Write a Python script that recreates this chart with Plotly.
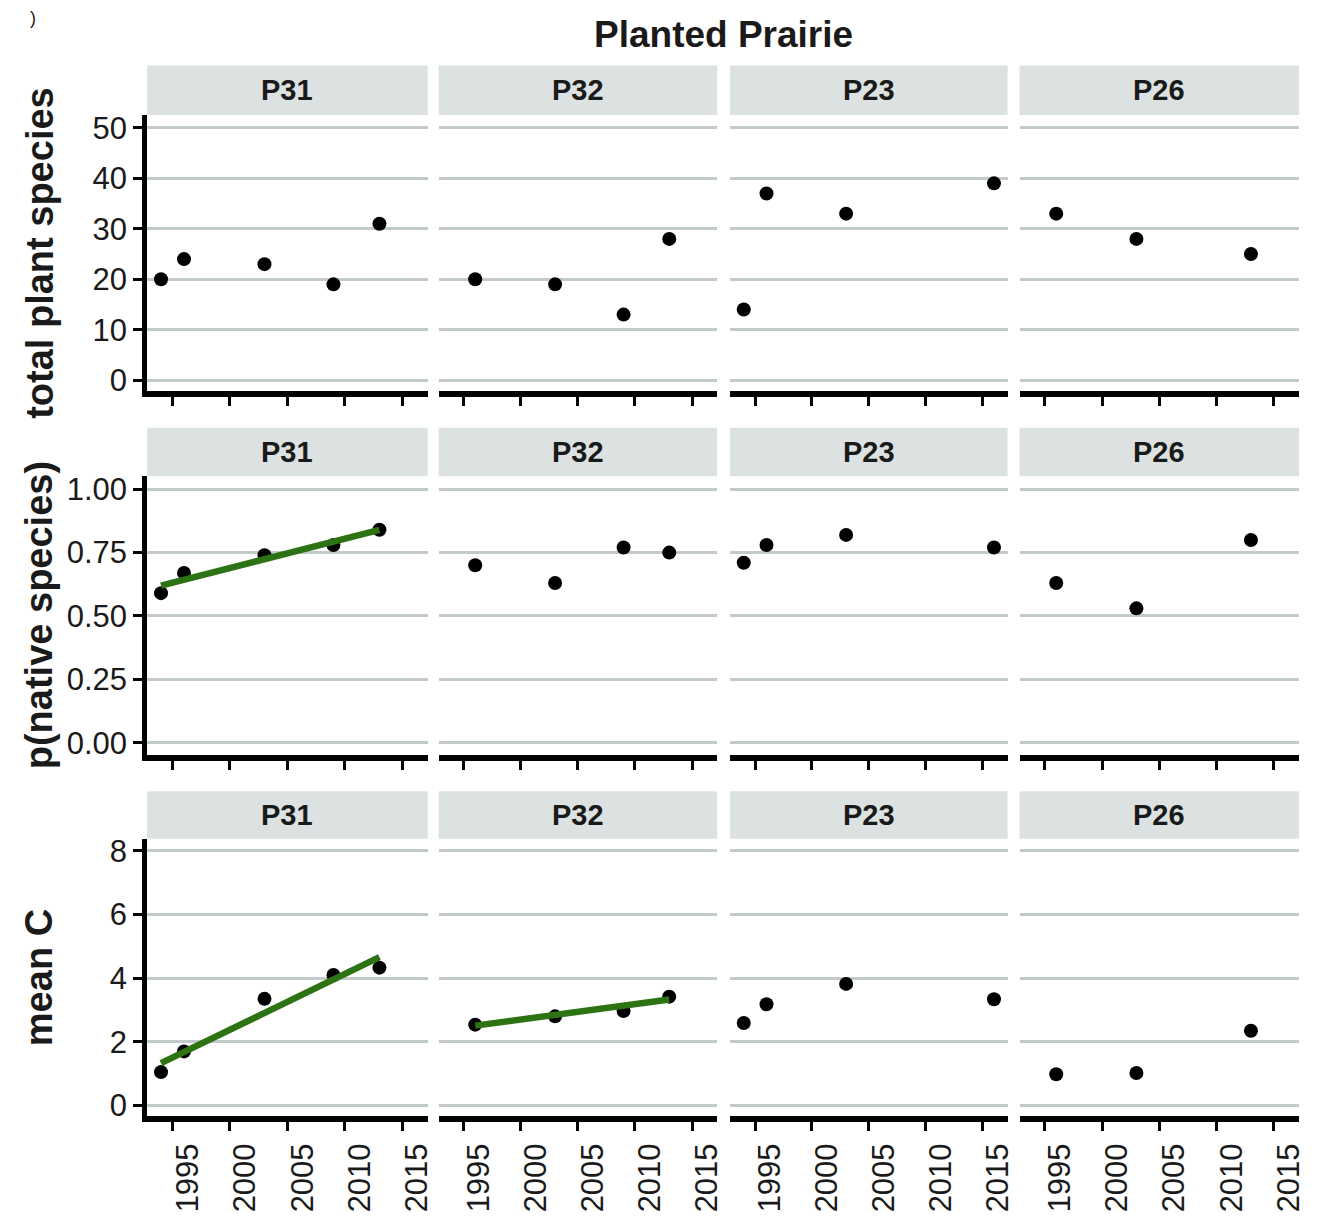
import plotly.graph_objects as go

# ---------------- data ----------------
sites = ["P31", "P32", "P23", "P26"]

years_P31 = [1994, 1996, 2003, 2009, 2013]
years_P32 = [1996, 2003, 2009, 2013]
years_P23 = [1994, 1996, 2003, 2016]
years_P26 = [1996, 2003, 2013]

total_P31 = [20, 24, 23, 19, 31]
total_P32 = [20, 19, 13, 28]
total_P23 = [14, 37, 33, 39]
total_P26 = [33, 28, 25]

native_P31 = [0.59, 0.67, 0.74, 0.78, 0.84]
native_P32 = [0.70, 0.63, 0.77, 0.75]
native_P23 = [0.71, 0.78, 0.82, 0.77]
native_P26 = [0.63, 0.53, 0.80]

meanC_P31 = [1.05, 1.70, 3.35, 4.10, 4.33]
meanC_P32 = [2.54, 2.80, 2.97, 3.42]
meanC_P23 = [2.59, 3.18, 3.82, 3.34]
meanC_P26 = [0.98, 1.02, 2.35]

# fitted trend lines (end points)
trend_native_P31_years = [1994, 2013]
trend_native_P31_vals = [0.62, 0.84]
trend_meanC_P31_years = [1994, 2013]
trend_meanC_P31_vals = [1.33, 4.66]
trend_meanC_P32_years = [1996, 2013]
trend_meanC_P32_vals = [2.51, 3.33]

row_titles = ["total plant species", "p(native species)", "mean C"]
x_tickvals = [1995, 2000, 2005, 2010, 2015]
y_tickvals_rows = [[0, 10, 20, 30, 40, 50],
                   [0, 0.25, 0.5, 0.75, 1.0],
                   [0, 2, 4, 6, 8]]
y_ticktext_rows = [["0", "10", "20", "30", "40", "50"],
                   ["0.00", "0.25", "0.50", "0.75", "1.00"],
                   ["0", "2", "4", "6", "8"]]

years = {"P31": years_P31, "P32": years_P32, "P23": years_P23, "P26": years_P26}
rows_data = [
    {"P31": total_P31, "P32": total_P32, "P23": total_P23, "P26": total_P26},
    {"P31": native_P31, "P32": native_P32, "P23": native_P23, "P26": native_P26},
    {"P31": meanC_P31, "P32": meanC_P32, "P23": meanC_P23, "P26": meanC_P26},
]
trends = {
    (1, "P31"): (trend_native_P31_years, trend_native_P31_vals),
    (2, "P31"): (trend_meanC_P31_years, trend_meanC_P31_vals),
    (2, "P32"): (trend_meanC_P32_years, trend_meanC_P32_vals),
}

# ---------------- layout geometry ----------------
W, H = 1320, 1225
def fx(x):
    return x / W
def fy(y):
    return 1 - y / H

col_px = [(148, 430), (441, 721), (734, 1013), (1025, 1306)]
row_px = [(61, 111, 390), (427, 476, 757), (794, 842, 1122)]
x_range = [1992.8, 2017.2]
y_ranges = [[-2.16, 52.55], [-0.047, 1.051], [-0.33, 8.38]]

FONT = "Liberation Sans, Arial, Helvetica, sans-serif"
TXT = "#1a1a1a"
GRID = "#c3cbca"
STRIP = "#dce2e1"
GREEN = "#2d7314"

fig = go.Figure()
layout = {}
shapes = []
annotations = []

for r in range(3):
    st, pt, pb = row_px[r]
    for c, site in enumerate(sites):
        idx = r * 4 + c + 1
        xa = "x" if idx == 1 else f"x{idx}"
        ya = "y" if idx == 1 else f"y{idx}"
        xkey = "xaxis" if idx == 1 else f"xaxis{idx}"
        ykey = "yaxis" if idx == 1 else f"yaxis{idx}"
        x0, x1 = col_px[c]

        fig.add_trace(go.Scatter(
            x=years[site], y=rows_data[r][site], mode="markers",
            marker=dict(color="black", size=14, line=dict(width=0)),
            xaxis=xa, yaxis=ya, showlegend=False, hoverinfo="skip"))
        if (r, site) in trends:
            tx, tv = trends[(r, site)]
            fig.add_trace(go.Scatter(
                x=tx, y=tv, mode="lines",
                line=dict(color=GREEN, width=6.5),
                xaxis=xa, yaxis=ya, showlegend=False, hoverinfo="skip"))

        layout[xkey] = dict(
            domain=[fx(x0), fx(x1)], range=x_range, anchor=ya,
            showgrid=False, zeroline=False,
            showline=True, linecolor="black", linewidth=6,
            ticks="outside", ticklen=9, tickwidth=3, tickcolor="black",
            tickvals=x_tickvals, ticktext=[str(v) for v in x_tickvals],
            showticklabels=(r == 2), tickangle=-90, ticklabelshift=15,
            tickfont=dict(family=FONT, size=31, color=TXT),
            fixedrange=True)
        layout[ykey] = dict(
            domain=[fy(pb), fy(pt)], range=y_ranges[r], anchor=xa,
            showgrid=True, gridcolor=GRID, gridwidth=2.8, zeroline=False,
            tickvals=y_tickvals_rows[r], ticktext=y_ticktext_rows[r],
            showline=(c == 0), linecolor="black", linewidth=5,
            ticks="outside" if c == 0 else "", ticklen=9, tickwidth=3,
            tickcolor="black", showticklabels=(c == 0),
            tickfont=dict(family=FONT, size=31, color=TXT),
            fixedrange=True)

        shapes.append(dict(type="rect", xref="paper", yref="paper",
                           x0=fx(x0), x1=fx(x1), y0=fy(pt), y1=fy(st),
                           fillcolor=STRIP, line=dict(width=0), layer="below"))
        annotations.append(dict(text=f"<b>{site}</b>", xref="paper", yref="paper",
                                x=fx((x0 + x1) / 2), y=fy((st + pt) / 2),
                                xanchor="center", yanchor="middle", showarrow=False,
                                font=dict(family=FONT, size=29, color=TXT)))

    annotations.append(dict(text=f"<b>{row_titles[r]}</b>", xref="paper", yref="paper",
                            x=fx(40), y=fy((pt + pb) / 2), textangle=-90,
                            xanchor="center", yanchor="middle", showarrow=False,
                            font=dict(family=FONT, size=38, color=TXT)))

annotations.append(dict(text="<b>Planted Prairie</b>", xref="paper", yref="paper",
                        x=fx(727), y=fy(30), xanchor="center", yanchor="middle",
                        showarrow=False, font=dict(family=FONT, size=37, color=TXT)))
annotations.append(dict(text=")", xref="paper", yref="paper",
                        x=fx(33), y=fy(1), xanchor="center", yanchor="top",
                        showarrow=False, font=dict(family=FONT, size=18, color=TXT)))

fig.update_layout(
    width=W, height=H, margin=dict(l=0, r=0, t=0, b=0),
    paper_bgcolor="white", plot_bgcolor="white",
    shapes=shapes, annotations=annotations, **layout)

fig.write_html("out.html", config={"displayModeBar": False})
